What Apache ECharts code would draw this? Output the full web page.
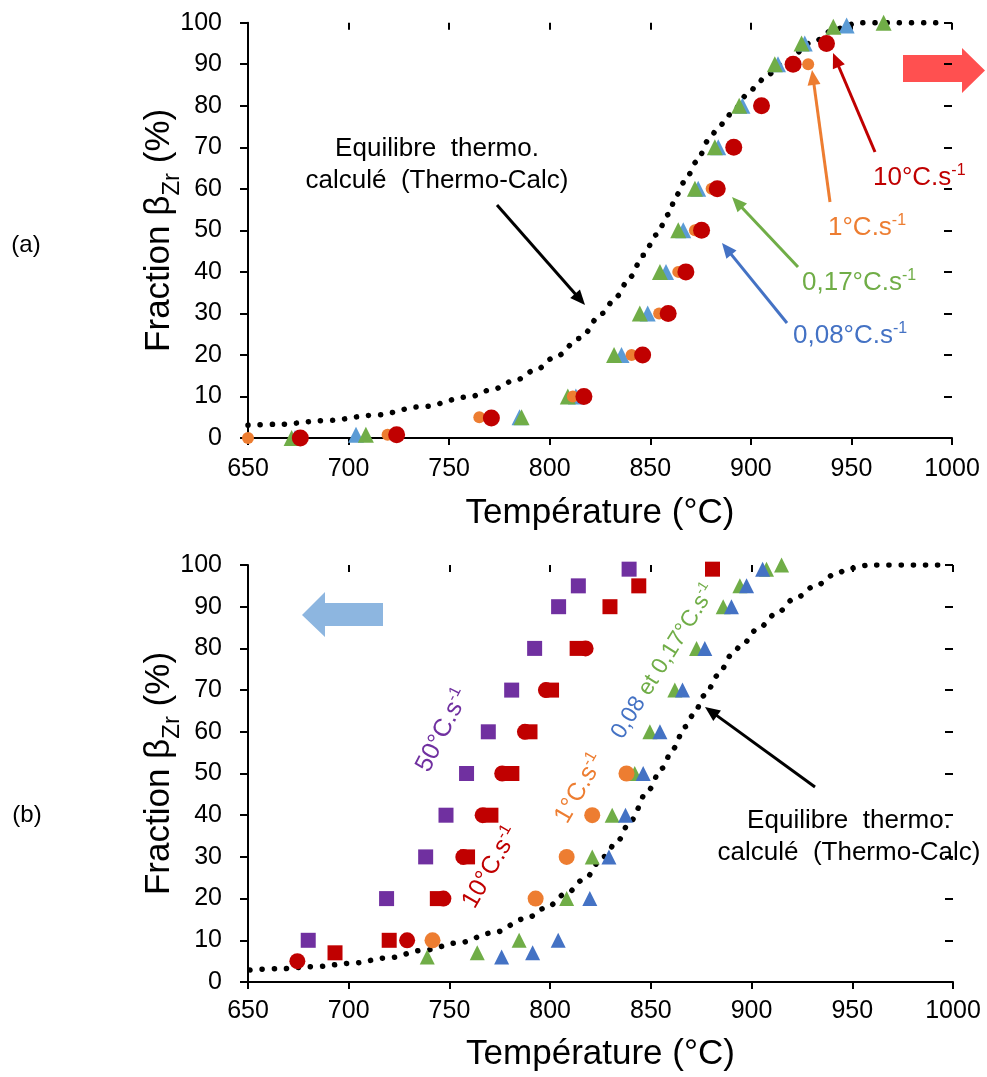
<!DOCTYPE html>
<html>
<head>
<meta charset="utf-8">
<script src="https://cdn.jsdelivr.net/npm/echarts@6/dist/echarts.min.js"></script>
<style>
html,body{margin:0;padding:0;background:#fff;}
#chart{width:987px;height:1077px;}
</style>
</head>
<body>
<div id="chart"></div>
<script>
// ---------- DATA ----------
const xTicks = [650, 1000, 50];   // min, max, interval (°C)
const yTicks = [0, 100, 10];      // min, max, interval (%)

// Panel (a): heating
const aEqT = [650, 665, 689, 713, 736, 760, 771, 783, 793, 803, 815, 826, 833, 840, 846.5, 853, 859, 863, 867, 873, 879, 883, 887, 890.5, 899, 903, 907, 916, 931, 942, 954, 997];
const aEqF = [3.1, 3.3, 4.2, 5.5, 7.5, 9.9, 11.6, 13.9, 16.4, 19.6, 24, 30, 34, 38.8, 44, 48.9, 53.8, 58.5, 61.7, 66.5, 71.7, 74.1, 76.1, 78.5, 83, 85, 87, 90.2, 95.4, 98.5, 100, 100];
const a008 = [[673.4,0],[703.7,0.8],[785,5],[813,10],[835.7,20],[848.7,30],[857.8,40],[866.4,50],[873.8,60],[883.8,70],[895.8,80],[913.5,90],[926.8,95],[947.6,99.3]];
const a017 = [[671.7,0],[708.6,0.8],[786,5],[809,10],[832,20],[844.8,30],[854.8,40],[863.9,50],[872.2,60],[882.1,70],[894.2,80],[911.9,90],[925.2,95],[941,99],[966,100]];
const a1   = [[650,0],[719.4,0.8],[765,5],[811.5,10],[840.7,20],[854.4,30],[863.9,40],[872.2,50],[880.5,60],[928.5,90]];
const a10  = [[676,0],[723.9,0.8],[771,4.8],[817,10],[846.2,20],[858.9,30],[867.7,40],[875.5,50],[883.3,60],[891.5,70],[905.3,80],[921,90],[937.6,95]];

// Panel (b): cooling
const bEqT = [651, 666, 684, 701.5, 719.6, 737, 754.4, 771.7, 788.3, 798, 808.2, 817.2, 826.3, 833.8, 839.6, 848.7, 855.3, 861.1, 866.9, 871, 876.8, 883.4, 890, 895, 903.3, 912.4, 921.5, 932.3, 942.2, 948.8, 958.6, 997];
const bEqF = [2.9, 3.2, 3.7, 4.5, 5.8, 7.6, 9.4, 11.8, 15.3, 17.8, 21.3, 24.8, 30, 34, 38.5, 46, 51.2, 56, 61.2, 64, 68.8, 73.6, 78.4, 80.8, 84.8, 88.4, 92, 95.2, 98, 99.2, 100, 100];
const b50   = [[679.9,10],[718.8,20],[738.2,30],[748.3,40],[758.5,50],[769.3,60],[780.9,70],[792.3,80],[804.2,90],[814,95],[839.2,99]];
const b10sq = [[693.2,7],[720.1,10],[744,20],[759,30],[770.6,40],[781,50],[790,60],[800.7,70],[813.4,80],[829.7,90],[844,95],[880.6,99]];
const b10ci = [[674.5,5],[729,10],[747,20],[756.9,30],[766.5,40],[776.2,50],[787.5,60],[797.9,70],[817.6,80]];
const b1    = [[741.6,10],[792.8,20],[808.2,30],[820.9,40],[837.9,50]];
const b017  = [[739,6],[763.8,7],[784.6,10],[808.2,20],[820.9,30],[830.8,40],[842,50],[849.5,60],[861.9,70],[872.7,80],[885.9,90],[894.2,95],[907.4,99],[914.9,100]];
const b008  = [[775.9,6],[791.3,7],[804,10],[819.7,20],[829.2,30],[837.4,40],[846.2,50],[854.5,60],[865.7,70],[876.8,80],[890,90],[897.5,95],[905.5,99]];

// ---------- STYLE ----------
const FONT = '"Liberation Sans", Arial, Helvetica, sans-serif';
const C = {red:'#C00000', orange:'#ED7D31', green:'#70AD47', lblue:'#5B9BD5', blue:'#4472C4', purple:'#7030A0', txt:'#000'};

const zip = (a, b) => a.map((v, i) => [v, b[i]]);

function mkX(g, inside) {
  return {
    gridIndex: g, type: 'value', min: xTicks[0], max: xTicks[1], interval: xTicks[2],
    axisLine: {show: !inside, onZero: false, lineStyle: {color: '#000', width: 2}},
    axisTick: {show: true, inside: inside, length: 7, lineStyle: {color: '#000', width: 2}},
    axisLabel: {show: !inside, fontSize: 25, fontFamily: FONT, color: C.txt, margin: g === 0 ? 19 : 17,
                showMinLabel: true, showMaxLabel: true, formatter: v => String(v)},
    splitLine: {show: false},
    name: inside ? '' : 'Température (°C)', nameLocation: 'middle', nameGap: g === 0 ? 58 : 55,
    nameMoveOverlap: false,
    nameTextStyle: {fontSize: 35, fontFamily: FONT, color: C.txt}
  };
}
function mkY(g, inside) {
  return {
    gridIndex: g, type: 'value', min: yTicks[0], max: yTicks[1], interval: yTicks[2],
    axisLine: {show: !inside, onZero: false, lineStyle: {color: '#000', width: 2}},
    axisTick: {show: true, inside: inside, length: 8, lineStyle: {color: '#000', width: 2}},
    axisLabel: {show: !inside, fontSize: 25, fontFamily: FONT, color: C.txt, margin: 26, formatter: v => String(v)},
    splitLine: {show: false},
    name: inside ? '' : '{m|Fraction β}{s|Zr}{m| (%)}', nameLocation: 'middle', nameGap: 64,
    nameMoveOverlap: false,
    nameTextStyle: {
      fontFamily: FONT, color: C.txt,
      rich: {
        m: {fontSize: 35, fontFamily: FONT, color: C.txt, lineHeight: 42, verticalAlign: 'top'},
        s: {fontSize: 24, fontFamily: FONT, color: C.txt, verticalAlign: 'bottom'}
      }
    }
  };
}

function eqSeries(xi, yi, T, F) {
  return {
    type: 'line', xAxisIndex: xi, yAxisIndex: yi, data: zip(T, F), symbol: 'none',
    smooth: 0.35, smoothMonotone: 'x', z: 1, silent: true,
    lineStyle: {color: '#000', width: 5.5, type: [0.1, 12], cap: 'round'}
  };
}
function sc(xi, yi, data, symbol, size, color, z) {
  return {type: 'scatter', xAxisIndex: xi, yAxisIndex: yi, data: data, symbol: symbol, symbolSize: size,
          itemStyle: {color: color, opacity: 1}, z: z, silent: true};
}

// ---------- ANNOTATION HELPERS ----------
function arrow(x1, y1, x2, y2, color, w, hl, hw) {
  const a = Math.atan2(y2 - y1, x2 - x1), c = Math.cos(a), s = Math.sin(a);
  const bx = x2 - hl * c, by = y2 - hl * s;
  return [
    {type: 'line', shape: {x1: x1, y1: y1, x2: bx + 2 * c, y2: by + 2 * s}, style: {stroke: color, lineWidth: w}, z: 100},
    {type: 'polygon', shape: {points: [[x2, y2], [bx + hw / 2 * s, by - hw / 2 * c], [bx - hw / 2 * s, by + hw / 2 * c]]}, style: {fill: color}, z: 100}
  ];
}
function rateLabel(x, y, parts, size, rotDeg, align) {
  // parts: [[text, color, isSup], ...]
  const rich = {};
  let txt = '';
  parts.forEach((p, i) => {
    const k = 't' + i;
    txt += '{' + k + '|' + p[0] + '}';
    rich[k] = p[2]
      ? {fontSize: Math.round(size * 0.62), fontFamily: FONT, fill: p[1], verticalAlign: 'top'}
      : {fontSize: size, fontFamily: FONT, fill: p[1], lineHeight: size + 2, verticalAlign: 'bottom'};
  });
  return {type: 'text', x: x, y: y, rotation: (rotDeg || 0) * Math.PI / 180, z: 100,
          style: {text: txt, rich: rich, align: align || 'left', verticalAlign: 'middle', font: size + 'px ' + FONT}};
}
function plainText(x, y, lines, size) {
  return {type: 'text', x: x, y: y, z: 100,
          style: {text: lines.join('\n'), font: size + 'px ' + FONT, fill: '#000', align: 'center', verticalAlign: 'middle', lineHeight: 32}};
}

const graphics = []
  .concat([
    {type: 'text', x: 26, y: 245, style: {text: '(a)', font: '24px ' + FONT, fill: '#000', align: 'center', verticalAlign: 'middle'}},
    {type: 'text', x: 27, y: 815, style: {text: '(b)', font: '24px ' + FONT, fill: '#000', align: 'center', verticalAlign: 'middle'}},
    // block arrows
    {type: 'polygon', shape: {points: [[903, 55], [962, 55], [962, 48], [985, 70.5], [962, 93], [962, 82], [903, 82]]}, style: {fill: '#FF5050'}},
    {type: 'polygon', shape: {points: [[383, 603], [325, 603], [325, 592], [302, 615], [325, 637], [325, 626], [383, 626]]}, style: {fill: '#8DB6E0'}},
    plainText(437, 165, ['Equilibre  thermo.', 'calculé  (Thermo-Calc)'], 26),
    plainText(849, 837, ['Equilibre  thermo.', 'calculé  (Thermo-Calc)'], 26),
    rateLabel(873, 177, [['10°C.s', C.red], ['-1', C.red, true]], 26),
    rateLabel(828, 227, [['1°C.s', C.orange], ['-1', C.orange, true]], 26),
    rateLabel(802, 282, [['0,17°C.s', C.green], ['-1', C.green, true]], 26),
    rateLabel(793, 335, [['0,08°C.s', C.blue], ['-1', C.blue, true]], 26),
    rateLabel(442, 730, [['50°C.s', C.purple], ['-1', C.purple, true]], 25, 63, 'center'),
    rateLabel(490, 867, [['10°C.s', C.red], ['-1', C.red, true]], 25, 60, 'center'),
    rateLabel(579, 788, [['1°C.s', C.orange], ['-1', C.orange, true]], 25, 60, 'center'),
    rateLabel(663, 661, [['0,08', C.blue], [' et 0,17°C.s', C.green], ['-1', C.green, true]], 23, 58, 'center')
  ])
  .concat(arrow(497, 205, 585, 305, '#000', 3, 15, 13))
  .concat(arrow(875, 152, 833, 53, C.red, 3, 15, 13))
  .concat(arrow(830, 202, 812, 70, C.orange, 3, 15, 13))
  .concat(arrow(798, 267, 732, 197, C.green, 3, 15, 13))
  .concat(arrow(787, 323, 722, 243, C.blue, 3, 15, 13))
  .concat(arrow(815, 787, 705, 707, '#000', 3, 15, 13));

const option = {
  animation: false,
  backgroundColor: '#fff',
  grid: [
    {left: 248, top: 22.7, width: 704, height: 415.3},
    {left: 248, top: 565, width: 705, height: 417}
  ],
  xAxis: [mkX(0, false), mkX(0, true), mkX(1, false), mkX(1, true)],
  yAxis: [mkY(0, false), mkY(0, true), mkY(1, false), mkY(1, true)],
  series: [
    eqSeries(0, 0, aEqT, aEqF),
    sc(0, 0, a008, 'triangle', 16, C.lblue, 2),
    sc(0, 0, a017, 'triangle', 16, C.green, 3),
    sc(0, 0, a1, 'circle', 12, C.orange, 4),
    sc(0, 0, a10, 'circle', 17, C.red, 5),

    eqSeries(2, 2, bEqT, bEqF),
    sc(2, 2, b017, 'triangle', 15, C.green, 2),
    sc(2, 2, b008, 'triangle', 15, C.blue, 3),
    sc(2, 2, b1, 'circle', 16, C.orange, 4),
    sc(2, 2, b10ci, 'circle', 16, C.red, 5),
    sc(2, 2, b10sq, 'rect', 15, C.red, 5),
    sc(2, 2, b50, 'rect', 15, C.purple, 6)
  ],
  graphic: graphics
};

const chart = echarts.init(document.getElementById('chart'), null, {renderer: 'canvas'});
chart.setOption(option);
</script>
</body>
</html>
